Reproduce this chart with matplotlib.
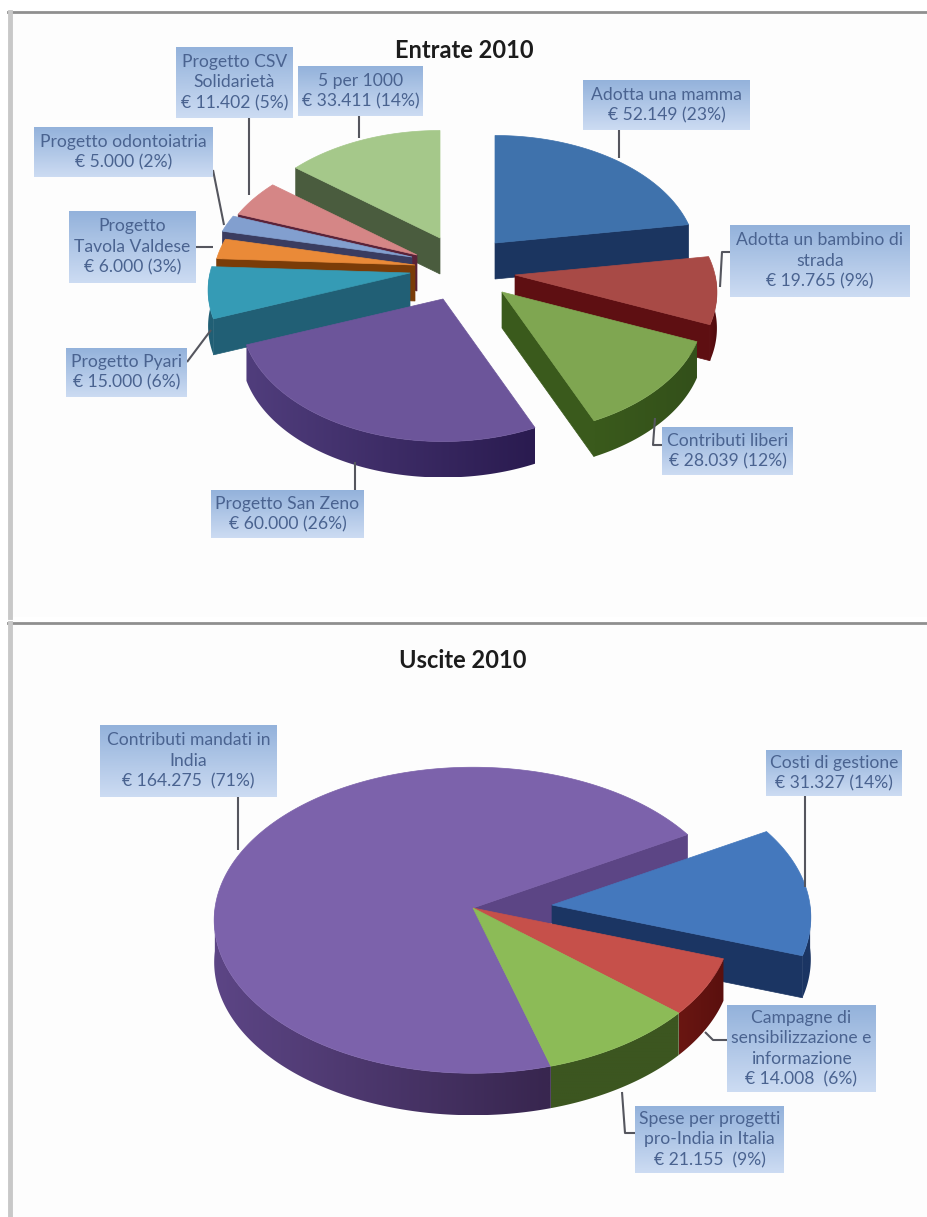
import numpy as np
import matplotlib.pyplot as plt
from matplotlib.colors import to_rgb

plt.rcParams['font.family'] = ['Lato', 'DejaVu Sans']

# entrate 2010
entrate_names = ["Adotta una mamma", "Adotta un bambino di\nstrada", "Contributi liberi",
                 "Progetto San Zeno", "Progetto Pyari", "Progetto\nTavola Valdese",
                 "Progetto odontoiatria", "Progetto CSV\nSolidarietà", "5 per 1000"]
entrate_values = [52149, 19765, 28039, 60000, 15000, 6000, 5000, 11402, 33411]
entrate_pct = [23, 9, 12, 26, 6, 3, 2, 5, 14]
entrate_gaps = [1, 1, 1, 1, 1, 1, 1, 1, 1]

# uscite 2010
uscite_names = ["Costi di gestione", "Campagne di\nsensibilizzazione e\ninformazione",
                "Spese per progetti\npro-India in Italia", "Contributi mandati in\nIndia"]
uscite_values = [31327, 14008, 21155, 164275]
uscite_pct = [14, 6, 9, 71]
uscite_gaps = [1, 2, 2, 2]

# top colour, side colour left, side colour right
entrate_colors = [("#3f72ac", "#1b3560", "#1b3560"), ("#a84a46", "#5e0f12", "#4f0a0d"),
                  ("#7fa651", "#3a5a1c", "#33501a"), ("#6c559a", "#503d7c", "#2a1b50"),
                  ("#359bb5", "#215f75", "#215f75"), ("#ea8a38", "#7a3c08", "#7a3c08"),
                  ("#829fcf", "#3a3c60", "#3a3c60"), ("#d58686", "#5a2238", "#5a2238"),
                  ("#a5c88a", "#4a5c3e", "#4a5c3e")]
uscite_colors = [("#4478bd", "#1b3563", "#1b3563"), ("#c6504a", "#6a1612", "#5a100e"),
                 ("#8cbb57", "#3c5620", "#3c5620"), ("#7c62ab", "#5c4585", "#38264f")]

z = [10]


def next_z():
    z[0] += 1
    return z[0]


def project(theta, rx, ry, k):
    # theta in degrees, clockwise from twelve o'clock, nearer points drawn bigger
    u = np.sin(np.radians(theta))
    v = -np.cos(np.radians(theta))
    s = 1 + k * v
    return rx * u * s, ry * v * s


def gradient_fill(ax, xs, ys, c1, c2):
    # polygon filled with a left to right gradient
    poly = plt.Polygon(np.c_[xs, ys], closed=True, facecolor="none", edgecolor="none")
    ax.add_patch(poly)
    t = np.linspace(0, 1, 64).reshape(1, -1, 1)
    a = np.array(to_rgb(c1)).reshape(1, 1, 3)
    b = np.array(to_rgb(c2)).reshape(1, 1, 3)
    im = ax.imshow(a + (b - a) * t, extent=(min(xs), max(xs), max(ys), min(ys)), aspect="auto",
                   zorder=next_z(), interpolation="bilinear")
    im.set_clip_path(poly)


def slice3d(ax, apex, t0, t1, colors, rx, ry, k, depth, cut_start, cut_end):
    top, side_a, side_b = colors
    ax0, ay0 = apex
    th = np.linspace(t0, t1, max(int(t1 - t0) * 2, 4))
    dx, dy = project(th, rx, ry, k)
    xs, ys = ax0 + dx, ay0 + dy

    # cut faces that look towards the viewer
    for edge, normal, show in ((0, t0 - 90, cut_start), (-1, t1 + 90, cut_end)):
        if show and -np.cos(np.radians(normal)) > 0:
            ax.fill([ax0, xs[edge], xs[edge], ax0], [ay0, ys[edge], ys[edge] + depth, ay0 + depth],
                    color=side_a, lw=0.5, zorder=next_z())

    # outer rim, only the front half shows
    front = (th % 360 > 90) & (th % 360 < 270)
    if front.sum() > 1:
        rim_x = np.r_[xs[front], xs[front][::-1]]
        rim_y = np.r_[ys[front], ys[front][::-1] + depth]
        gradient_fill(ax, rim_x, rim_y, side_a, side_b)

    ax.fill(np.r_[ax0, xs], np.r_[ay0, ys], color=top, lw=0.5, zorder=next_z())


def pie3d(ax, values, start, apexes, order, colors, rx, ry, k, depth):
    total = sum(values)
    edges = start + np.r_[0, np.cumsum(values)] / total * 360
    n = len(values)
    for i in order:
        # no cut face where the neighbour is still attached
        cut_start = apexes[i] != apexes[i - 1]
        cut_end = apexes[i] != apexes[(i + 1) % n]
        slice3d(ax, apexes[i], edges[i], edges[i + 1], colors[i], rx, ry, k, depth, cut_start, cut_end)


def money(value, pct, gap):
    return "€ " + f"{value:,}".replace(",", ".") + " " * gap + f"({pct}%)"


def callout(ax, box, name, value, pct, gap, leader):
    x0, y0, x1, y1 = box
    ax.plot(*zip(*leader), color="#55565e", lw=1.5, solid_capstyle="butt", zorder=1000)
    grad = np.linspace(0, 1, 40).reshape(-1, 1, 1)
    c1 = np.array([0.58, 0.70, 0.86]).reshape(1, 1, 3)
    c2 = np.array([0.80, 0.86, 0.95]).reshape(1, 1, 3)
    ax.imshow(c1 + (c2 - c1) * grad, extent=(x0, x1, y1, y0), aspect="auto", zorder=1001)
    ax.text((x0 + x1) / 2, (y0 + y1) / 2, name + "\n" + money(value, pct, gap), ha="center", va="center",
            fontsize=12.6, color="#4a6390", linespacing=1.35, zorder=1002)


fig = plt.figure(figsize=(9.27, 12.17), dpi=100)
ax = fig.add_axes([0, 0, 1, 1])
ax.axis("off")

# panel frames
ax.fill([12, 927, 927, 12], [14, 14, 617, 617], color="#fdfdfd", lw=0, zorder=1)
ax.fill([12, 927, 927, 12], [625, 625, 1217, 1217], color="#fdfdfd", lw=0, zorder=1)
for y0, y1 in ((12, 617), (623, 1217)):
    ax.plot([8, 927], [y0, y0], color="#8f8f8f", lw=2, zorder=2)
    ax.plot([10, 10], [y0, y1], color="#c8c8c8", lw=3.5, zorder=2)

ax.text(464, 50, "Entrate 2010", ha="center", va="center", fontsize=17, fontweight="bold",
        color="#1c1c1c", zorder=1002)
ax.text(463, 660, "Uscite 2010", ha="center", va="center", fontsize=17, fontweight="bold",
        color="#1c1c1c", zorder=1002)

entrate_apex = [(495, 243), (515, 275), (502, 292), (443, 299), (410, 273),
                (415, 265), (412, 257), (417, 255), (440, 238)]
entrate_order = [8, 0, 7, 6, 5, 4, 1, 3, 2]
pie3d(ax, entrate_values, 0, entrate_apex, entrate_order, entrate_colors, 200, 125, 0.14, 36)

uscite_apex = [(552, 905), (473, 908), (473, 908), (473, 908)]
uscite_order = [3, 0, 1, 2]
pie3d(ax, uscite_values, 60, uscite_apex, uscite_order, uscite_colors, 258, 153, 0.08, 42)

entrate_boxes = [(583, 80, 750, 130), (730, 225, 910, 297), (662, 427, 793, 475),
                 (211, 490, 364, 538), (66, 348, 187, 397), (69, 211, 196, 283),
                 (34, 127, 213, 177), (176, 47, 293, 118), (298, 66, 423, 116)]
entrate_leaders = [[(619, 130), (619, 158)], [(730, 252), (722, 252), (720, 287)],
                   [(662, 445), (653, 445), (655, 418)], [(355, 490), (355, 462)],
                   [(187, 362), (211, 330)], [(196, 247), (213, 247)],
                   [(213, 170), (224, 225)], [(249, 118), (249, 195)], [(359, 116), (359, 138)]]
for i in range(len(entrate_names)):
    callout(ax, entrate_boxes[i], entrate_names[i], entrate_values[i], entrate_pct[i], entrate_gaps[i],
            entrate_leaders[i])

uscite_boxes = [(766, 750, 902, 796), (727, 1005, 876, 1092), (635, 1106, 784, 1173), (100, 725, 277, 797)]
uscite_leaders = [[(805, 796), (805, 887)], [(727, 1040), (713, 1040), (705, 1032)],
                  [(635, 1133), (625, 1133), (622, 1092)], [(238, 797), (238, 850)]]
for i in range(len(uscite_names)):
    callout(ax, uscite_boxes[i], uscite_names[i], uscite_values[i], uscite_pct[i], uscite_gaps[i],
            uscite_leaders[i])

ax.set_xlim(0, 927)
ax.set_ylim(1217, 0)
fig.savefig("out.png", dpi=100, facecolor="white")
